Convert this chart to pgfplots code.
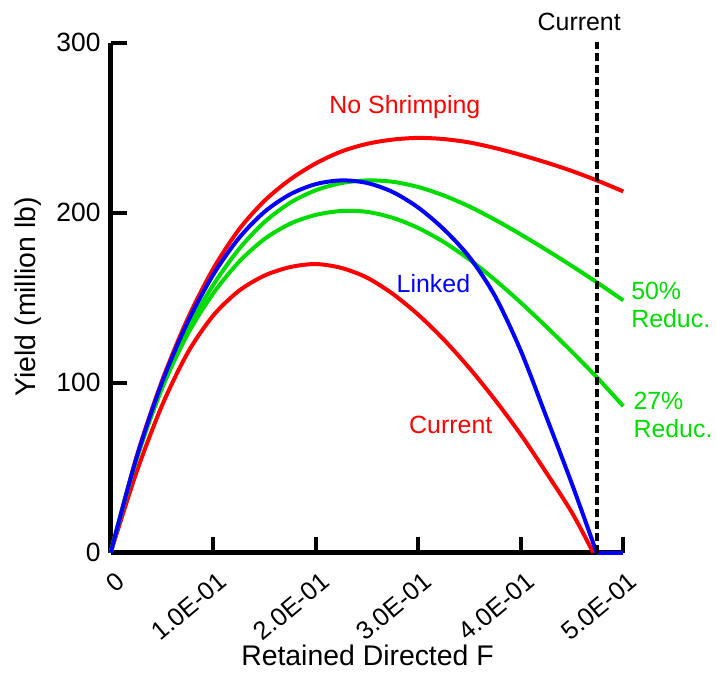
\documentclass[border=0pt]{standalone}
\usepackage{fontspec}
\setmainfont{Liberation Sans}
\usepackage{pgfplots}
\pgfplotsset{compat=1.18}
\definecolor{cRed}{RGB}{255,0,0}
\definecolor{cBlue}{RGB}{0,0,255}
\definecolor{cGreen}{RGB}{0,220,0}
\begin{document}
\begin{tikzpicture}
\useasboundingbox (-110.7bp,-121.3bp) rectangle (605.3bp,552.7bp);
\begin{axis}[
  at={(0,0)}, anchor=south west,
  scale only axis, width=512.6bp, height=510bp,
  xmin=0, xmax=0.5, ymin=0, ymax=300,
  axis x line=bottom, axis y line=left,
  axis line style={-, line width=4.5bp, black},
  x axis line style={-}, y axis line style={-},
  xtick={0,0.1,0.2,0.3,0.4,0.5},
  xticklabels={0,1.0E-01,2.0E-01,3.0E-01,4.0E-01,5.0E-01},
  ytick={0,100,200,300},
  yticklabels={0,100,200,300},
  tick align=inside,
  major tick length=16bp,
  every tick/.style={black, line width=4bp},
  minor tick num=0,
  ticklabel style={inner sep=0pt},
  xticklabel style={font=\fontsize{25.5}{28}\selectfont, xshift=4bp, yshift=-18bp, rotate=40, anchor=north east},
  yticklabel style={font=\fontsize{26.5}{30}\selectfont, xshift=-10bp, anchor=east},
  xlabel={Retained Directed F},
  ylabel={Yield (million lb)},
  every axis x label/.style={at={(axis description cs:0.501,-0.2006)}, anchor=center, font=\fontsize{28.5}{32}\selectfont},
  every axis y label/.style={at={(axis description cs:-0.162,0.502)}, rotate=90, anchor=center, font=\fontsize{28.5}{32}\selectfont},
  clip=false,
  every axis plot/.append style={line width=4bp},
]
% No Shrimping
\addplot[cRed, smooth] coordinates {
(0,0) (0.025,56) (0.05,101) (0.075,137.5) (0.10,167) (0.125,190) (0.15,207)
(0.175,219.5) (0.20,229) (0.225,236) (0.25,240.5) (0.275,243) (0.30,244)
(0.325,243.3) (0.35,241.3) (0.375,238) (0.40,234) (0.425,229.5) (0.45,224.5)
(0.475,218.8) (0.50,212.5)};
% Current
\addplot[cRed, smooth] coordinates {
(0,0) (0.025,47) (0.05,86.5) (0.075,117.5) (0.10,139.5) (0.125,154) (0.15,163)
(0.175,168) (0.20,169.8) (0.225,167.5) (0.25,161.8) (0.275,152.3) (0.30,140)
(0.325,125.3) (0.35,108.5) (0.375,89.8) (0.40,69.5) (0.425,47) (0.45,23.5) (0.4707,0)};
% 27% Reduc.
\addplot[cGreen, smooth] coordinates {
(0,0) (0.025,54.5) (0.05,96.5) (0.075,128.5) (0.10,152.5) (0.125,171) (0.15,184.5)
(0.175,193.5) (0.20,198.7) (0.225,201) (0.25,200.5) (0.275,197) (0.30,191)
(0.325,182.7) (0.35,172.4) (0.375,160.4) (0.40,147.1) (0.425,132.9) (0.45,118.1)
(0.475,102.7) (0.50,86.2)};
% 50% Reduc.
\addplot[cGreen, smooth] coordinates {
(0,0) (0.025,55) (0.05,98) (0.075,131.5) (0.10,157.5) (0.125,178.5) (0.15,194.5)
(0.175,205.8) (0.20,213.2) (0.225,217.4) (0.25,219) (0.275,218.2) (0.30,215.1)
(0.325,210.1) (0.35,203.6) (0.375,195.8) (0.40,187.2) (0.425,178.1) (0.45,168.6)
(0.475,158.7) (0.50,148.4)};
% Linked
\addplot[cBlue, smooth] coordinates {
(0,0) (0.025,55.5) (0.05,100) (0.075,135.5) (0.10,163.5) (0.125,185) (0.15,200.5)
(0.175,210.8) (0.20,216.8) (0.225,219) (0.25,217.5) (0.275,212.2) (0.30,203)
(0.325,190.2) (0.35,173.8) (0.375,150.8) (0.40,118.8) (0.425,79.8) (0.45,40.3) (0.474,0)};
\addplot[cBlue] coordinates {(0.474,0) (0.50,0)};
% Current F
\addplot[black, line width=4bp, dash pattern=on 8bp off 4bp] coordinates {(0.474,0) (0.474,300.6)};
\node[cRed, font=\fontsize{25}{28}\selectfont] at (axis cs:0.287,262) {No Shrimping};
\node[cBlue, font=\fontsize{25}{28}\selectfont] at (axis cs:0.3148,158.5) {Linked};
\node[cRed, font=\fontsize{25}{28}\selectfont] at (axis cs:0.3317,75.1) {Current};
\node[black, font=\fontsize{25}{28}\selectfont] at (axis cs:0.457,312.4) {Current};
\node[cGreen, font=\fontsize{25}{28.3}\selectfont, anchor=west, align=left, inner sep=0pt] at (axis cs:0.5076,145.7) {50\%\\Reduc.};
\node[cGreen, font=\fontsize{25}{28.3}\selectfont, anchor=west, align=left, inner sep=0pt] at (axis cs:0.5098,81) {27\%\\Reduc.};
\end{axis}
\end{tikzpicture}
\end{document}
